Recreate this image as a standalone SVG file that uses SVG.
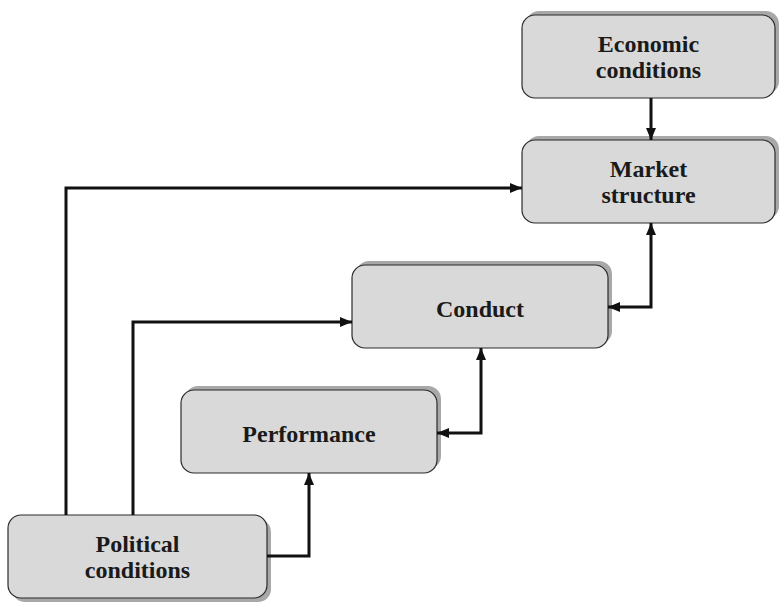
<svg xmlns="http://www.w3.org/2000/svg" width="779" height="602" viewBox="0 0 779 602">
  <style>
    .shadow { fill: #a8a8a8; }
    .box { fill: #d9d9d9; stroke: #2b2b2b; stroke-width: 1.2; }
    .label { font-family: "Liberation Serif", "Times New Roman", serif; font-weight: bold; font-size: 24px; fill: #1a1a1a; text-anchor: middle; }
    .wire { fill: none; stroke: #111; stroke-width: 3; }
  </style>
  <defs>
    <marker id="arrow" viewBox="0 0 12 10" refX="12" refY="5" markerWidth="12" markerHeight="10" markerUnits="userSpaceOnUse" orient="auto-start-reverse">
      <path d="M0,0 L12,5 L0,10 Z" fill="#111"/>
    </marker>
  </defs>
  <rect width="779" height="602" fill="#fff"/>

  <g id="economic">
    <rect class="shadow" x="526" y="11" width="253" height="83" rx="13"/>
    <rect class="box" x="522" y="15" width="253" height="83" rx="13"/>
    <text class="label" x="648.5" y="52">Economic</text>
    <text class="label" x="648.5" y="78">conditions</text>
  </g>

  <g id="market">
    <rect class="shadow" x="526" y="136" width="253" height="83" rx="13"/>
    <rect class="box" x="522" y="140" width="253" height="83" rx="13"/>
    <text class="label" x="648.5" y="177">Market</text>
    <text class="label" x="648.5" y="203">structure</text>
  </g>

  <g id="conduct">
    <rect class="shadow" x="356" y="261" width="256" height="83" rx="13"/>
    <rect class="box" x="352" y="265" width="256" height="83" rx="13"/>
    <text class="label" x="480" y="317">Conduct</text>
  </g>

  <g id="performance">
    <rect class="shadow" x="185" y="386" width="256" height="83" rx="13"/>
    <rect class="box" x="181" y="390" width="256" height="83" rx="13"/>
    <text class="label" x="309" y="442">Performance</text>
  </g>

  <g id="political">
    <rect class="shadow" x="12" y="519" width="259" height="83" rx="13"/>
    <rect class="box" x="8" y="515" width="259" height="83" rx="13"/>
    <text class="label" x="137.5" y="552">Political</text>
    <text class="label" x="137.5" y="578">conditions</text>
  </g>

  <g id="connectors">
    <path class="wire" d="M651,98 V140" marker-end="url(#arrow)"/>
    <path class="wire" d="M66,515 V188 H522" marker-end="url(#arrow)"/>
    <path class="wire" d="M133,515 V322 H352" marker-end="url(#arrow)"/>
    <path class="wire" d="M267,556 H309 V473" marker-end="url(#arrow)"/>
    <!-- two-way links -->
    <path class="wire" d="M437,433 H481 V348" marker-start="url(#arrow)" marker-end="url(#arrow)"/>
    <path class="wire" d="M608,307 H651 V223" marker-start="url(#arrow)" marker-end="url(#arrow)"/>
  </g>
</svg>
